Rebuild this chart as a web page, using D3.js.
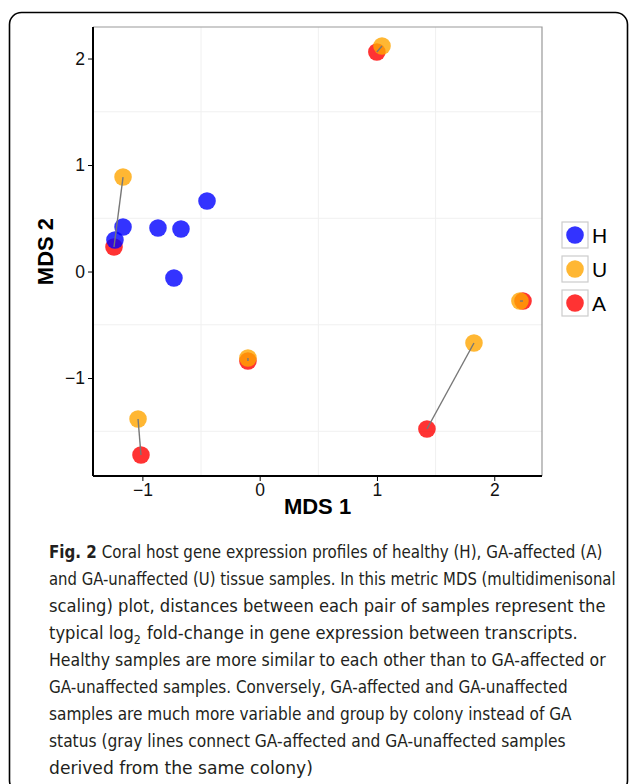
<!DOCTYPE html>
<html><head><meta charset="utf-8">
<script src="https://cdn.jsdelivr.net/npm/d3@7"></script>
<style>body{margin:0;background:#fff}</style>
</head><body>
<script>
// ---- data ----
const groups = ["H", "U", "A"];
const groupColors = ["#0000ff", "#ffa500", "#ff0000"];
const sampleGroup = ["A","A","A","A","A","A","U","U","U","U","U","U","H","H","H","H","H","H"];
const mds1 = [-1.242, 0.999, -0.100, -1.012, 1.426, 2.245,
              -1.165, 1.043, -0.100, -1.037, 1.827, 2.219,
              -1.165, -0.867, -0.671, -0.449, -0.731, -1.234];
const mds2 = [0.230, 2.061, -0.840, -1.723, -1.479, -0.277,
              0.887, 2.117, -0.812, -1.385, -0.671, -0.277,
              0.418, 0.408, 0.399, 0.662, -0.061, 0.296];
const colony = [1,2,3,4,5,6, 1,2,3,4,5,6, 0,0,0,0,0,0];
const xTicks = [-1, 0, 1, 2];
const yTicks = [-1, 0, 1, 2];
const xGrid = [-0.5, 0.5, 1.5];
const yGrid = [-1.5, -0.5, 0.5, 1.5];
const xTitle = "MDS 1", yTitle = "MDS 2";
// **bold**, _subscript_
const captionLines = [
  "**Fig. 2** Coral host gene expression profiles of healthy (H), GA-affected (A)",
  "and GA-unaffected (U) tissue samples. In this metric MDS (multidimenisonal",
  "scaling) plot, distances between each pair of samples represent the",
  "typical log_2_ fold-change in gene expression between transcripts.",
  "Healthy samples are more similar to each other than to GA-affected or",
  "GA-unaffected samples. Conversely, GA-affected and GA-unaffected",
  "samples are much more variable and group by colony instead of GA",
  "status (gray lines connect GA-affected and GA-unaffected samples",
  "derived from the same colony)"
];
const captionRight = [603, 616, 606, 578, 606, 568, 572, 566, 313];

// ---- layout ----
const W = 630, H = 784;
const P = {left: 93, right: 542, top: 27, bottom: 476};
const svg = d3.select("body").append("svg").attr("width", W).attr("height", H)
  .style("font-family", "'Liberation Sans', Arial, sans-serif");

svg.append("rect").attr("x", 9.5).attr("y", 12.5).attr("width", 618).attr("height", 780)
  .attr("rx", 12).attr("fill", "#fff").attr("stroke", "#000").attr("stroke-width", 1.6);

const x = d3.scaleLinear().domain([-1.421, 2.407]).range([P.left, P.right]);
const y = d3.scaleLinear().domain([-1.920, 2.296]).range([P.bottom, P.top]);
const color = d3.scaleOrdinal().domain(groups).range(groupColors);

// grid
svg.append("g").selectAll("line").data(xGrid).join("line")
  .attr("x1", d => x(d)).attr("x2", d => x(d)).attr("y1", P.top).attr("y2", P.bottom)
  .attr("stroke", "#f0f0f0").attr("stroke-width", 1);
svg.append("g").selectAll("line").data(yGrid).join("line")
  .attr("y1", d => y(d)).attr("y2", d => y(d)).attr("x1", P.left).attr("x2", P.right)
  .attr("stroke", "#f0f0f0").attr("stroke-width", 1);

// panel border (top/right gray)
svg.append("path").attr("d", `M${P.left},${P.top}H${P.right}V${P.bottom}`)
  .attr("fill", "none").attr("stroke", "#999").attr("stroke-width", 1.2);

// axes
const fmt = d => d < 0 ? "\u2212" + Math.abs(d) : d;
const xAxis = svg.append("g").attr("transform", `translate(0,${P.bottom})`)
  .call(d3.axisBottom(x).tickValues(xTicks).tickSize(5).tickPadding(3).tickFormat(fmt));
xAxis.select(".domain").attr("d", `M${P.left},0H${P.right}`).attr("stroke-width", 2);
xAxis.selectAll("text").attr("font-size", 17.5).attr("fill", "#111").attr("font-family", "'Liberation Sans', Arial, sans-serif");

const yAxis = svg.append("g").attr("transform", `translate(${P.left},0)`)
  .call(d3.axisLeft(y).tickValues(yTicks).tickSize(5).tickPadding(3).tickFormat(fmt));
yAxis.select(".domain").attr("d", `M0,${P.top}V${P.bottom}`).attr("stroke-width", 2);
yAxis.selectAll("text").attr("font-size", 17.5).attr("fill", "#111").attr("font-family", "'Liberation Sans', Arial, sans-serif");

svg.append("text").attr("x", (P.left + P.right) / 2).attr("y", 514)
  .attr("text-anchor", "middle").attr("font-weight", "bold").attr("font-size", 22).text(xTitle);
svg.append("text").attr("transform", `translate(53,${(P.top + P.bottom) / 2}) rotate(-90)`)
  .attr("text-anchor", "middle").attr("font-weight", "bold").attr("font-size", 22).text(yTitle);

// points
const samples = sampleGroup.map((g, i) => ({g, x: mds1[i], y: mds2[i], c: colony[i]}));
svg.append("g").selectAll("circle").data(samples).join("circle")
  .attr("cx", d => x(d.x)).attr("cy", d => y(d.y)).attr("r", 8.8)
  .attr("fill", d => color(d.g)).attr("fill-opacity", 0.8);

// colony lines (U to A of same colony)
const pairs = d3.groups(samples.filter(d => d.c > 0), d => d.c);
svg.append("g").selectAll("line").data(pairs).join("line")
  .attr("x1", d => x(d[1].find(s => s.g === "U").x))
  .attr("y1", d => y(d[1].find(s => s.g === "U").y))
  .attr("x2", d => x(d[1].find(s => s.g === "A").x))
  .attr("y2", d => y(d[1].find(s => s.g === "A").y))
  .attr("stroke", "#777").attr("stroke-width", 1.4);

// legend
const lg = svg.append("g").selectAll("g").data(groups).join("g")
  .attr("transform", (d, i) => `translate(562,${222 + i * 34})`);
lg.append("rect").attr("width", 26).attr("height", 26).attr("fill", "#fff")
  .attr("stroke", "#ccc").attr("stroke-width", 1.2);
lg.append("circle").attr("cx", 13).attr("cy", 13).attr("r", 8.8)
  .attr("fill", d => color(d)).attr("fill-opacity", 0.8);
lg.append("text").attr("x", 30).attr("y", 21).attr("font-size", 21).text(d => d);

// ---- caption ----
const ctx = document.createElement("canvas").getContext("2d");
const probe = "mmmwwwiiilll abcdefgh 0123";
function available(f) {
  ctx.font = "40px monospace"; const a = ctx.measureText(probe).width;
  ctx.font = `40px "${f}", monospace`; return ctx.measureText(probe).width !== a;
}
const capFont = ["Liberation Sans Narrow", "DejaVu Sans Condensed", "Open Sans", "Noto Sans"]
  .find(available) || "sans-serif";
const fs = 18.5;

const cap = svg.append("g").style("font-family", `"${capFont}", sans-serif`).attr("fill", "#231f20");
captionLines.forEach((line, i) => {
  const base = 558 + i * 27;
  const g = cap.append("g");
  const segs = line.split(/(\*\*.*?\*\*|_.*?_)/).filter(s => s.length);
  let cx = 0;
  segs.forEach(s => {
    let kind = "n", t = s;
    if (s.startsWith("**")) { kind = "b"; t = s.slice(2, -2); }
    else if (s.startsWith("_") && s.endsWith("_") && s.length > 2) { kind = "s"; t = s.slice(1, -1); }
    const lead = /^\s/.test(t);
    t = t.trim();
    const size = kind === "s" ? fs * 0.68 : fs;
    ctx.font = `${kind === "b" ? "bold " : ""}${size}px "${capFont}"`;
    if (lead) cx += ctx.measureText(" ").width;
    const el = g.append("text").attr("x", cx).attr("y", kind === "s" ? 5 : 0)
      .attr("font-size", size).attr("font-weight", kind === "b" ? "bold" : null).text(t);
    cx += el.node().getComputedTextLength() + (kind === "s" ? 1 : 0);
  });
  const sx = (captionRight[i] - 49) / cx;
  g.attr("transform", `translate(49,${base}) scale(${sx},1)`);
});
</script>
</body></html>
